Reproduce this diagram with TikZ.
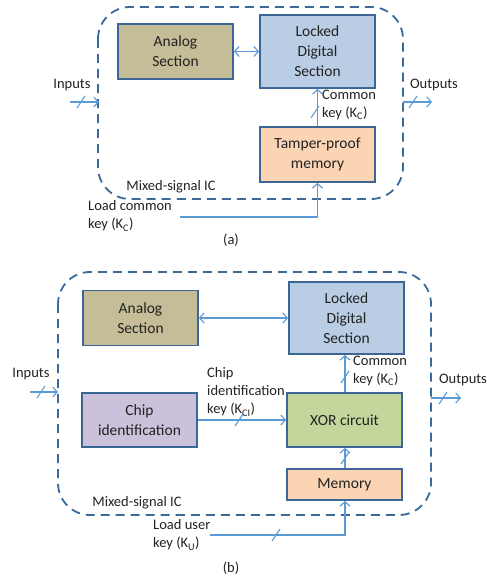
\documentclass[tikz,border=0pt]{standalone}
\usepackage{fontspec}
\setmainfont{Carlito}
\usetikzlibrary{arrows.meta,calc}
\definecolor{boxborder}{HTML}{3B6696}
\definecolor{dashcol}{HTML}{3A6A9A}
\definecolor{linecol}{HTML}{5B9BD5}
\definecolor{txt}{HTML}{222222}
\definecolor{analogfill}{HTML}{C4BD97}
\definecolor{lockedfill}{HTML}{B9CDE5}
\definecolor{memfill}{HTML}{FBD4B4}
\definecolor{chipfill}{HTML}{CCC1DA}
\definecolor{xorfill}{HTML}{C3D69B}
\begin{document}
\begin{tikzpicture}[x=1pt,y=-1pt,
 blk/.style={draw=boxborder, line width=1.8pt, minimum width=115pt, align=center, text=txt, font=\fontsize{15.5}{20}\selectfont, inner sep=0pt},
 lbl/.style={text=txt, font=\fontsize{14.5}{18}\selectfont, align=left, inner sep=0pt},
 conn/.style={draw=linecol, line width=1.1pt},
 arr/.style={conn, -{Straight Barb[length=4.5pt,width=10pt]}},
 darr/.style={conn, {Straight Barb[length=4.5pt,width=10pt]}-{Straight Barb[length=4.5pt,width=10pt]}},
 icbox/.style={draw=dashcol, line width=1.8pt, dash pattern=on 9pt off 6pt, rounded corners=32pt},
 slashmark/.pic={\draw[conn] (-4,6) -- (4,-6);}
]
\useasboundingbox (0,0) rectangle (487,578);

% ---------------- (a) ----------------
\draw[icbox] (98,7) rectangle (403,199);
\node[blk, fill=analogfill, minimum height=55pt] (an1) at (175.5,51.5) {Analog\\Section};
\node[blk, fill=lockedfill, minimum height=73pt] (lk1) at (317.5,51.5) {Locked\\Digital\\Section};
\node[blk, fill=memfill, minimum height=55pt] (tp1) at (317.5,154.5) {Tamper-proof\\memory};

\draw[darr] (an1.east) -- (lk1.west);
\draw[arr] (tp1.north) -- (lk1.south);
\pic at (315,112) {slashmark};
\node[lbl, anchor=west] (ck1) at (322,105) {Common\\key (K\textsubscript{C})};

\node[lbl] (in1) at (72,85) {Inputs};
\coordinate (in1s) at (70,102);
\coordinate (in1e) at (99,102);
\draw[arr] (in1s) -- (in1e);
\pic at (81,102) {slashmark};

\node[lbl] (out1) at (434,85) {Outputs};
\coordinate (out1s) at (403,102);
\coordinate (out1e) at (432,102);
\draw[arr] (out1s) -- (out1e);
\pic at (413,102) {slashmark};

\node[lbl] (mx1) at (171,187) {Mixed-signal IC};
\node[lbl, anchor=west] (ld1) at (88,216) {Load common\\key (K\textsubscript{C})};
\coordinate (ld1s) at (180,217);
\draw[arr] (ld1s) -| (tp1.south);
\node[lbl] (capa) at (231,240) {(a)};

% ---------------- (b) ----------------
\draw[icbox] (58,272) rectangle (431,515);
\node[blk, fill=analogfill, minimum height=55pt] (an2) at (140.5,318) {Analog\\Section};
\node[blk, fill=lockedfill, minimum height=72pt] (lk2) at (346.5,318) {Locked\\Digital\\Section};
\node[blk, fill=chipfill, minimum height=54pt] (ch2) at (139.5,420) {Chip\\identification};
\node[blk, fill=xorfill, minimum height=54pt] (xo2) at (344.5,420) {XOR circuit};
\node[blk, fill=memfill, minimum height=31pt] (me2) at (344.5,484.5) {Memory};

\draw[darr] (an2.east) -- (lk2.west);
\draw[arr] (ch2.east) -- (xo2.west);
\pic at (239,420) {slashmark};
\node[lbl, anchor=west] (ci2) at (207,392) {Chip\\identification\\key (K\textsubscript{CI})};

\draw[arr] (xo2.north -| 345,0) -- (lk2.south -| 345,0);
\pic at (345,377) {slashmark};
\node[lbl, anchor=west] (ck2) at (353,371) {Common\\key (K\textsubscript{C})};

\draw[arr] (me2.north -| 345,0) -- (xo2.south -| 345,0);
\pic at (345,458) {slashmark};

\node[lbl] (in2) at (31,374) {Inputs};
\coordinate (in2s) at (30,392);
\coordinate (in2e) at (58,392);
\draw[arr] (in2s) -- (in2e);
\pic at (41,392) {slashmark};

\node[lbl] (out2) at (463,380) {Outputs};
\coordinate (out2s) at (431,398);
\coordinate (out2e) at (461,398);
\draw[arr] (out2s) -- (out2e);
\pic at (443,398) {slashmark};

\node[lbl] (mx2) at (137,503) {Mixed-signal IC};
\node[lbl, anchor=west] (ld2) at (153,535) {Load user\\key (K\textsubscript{U})};
\coordinate (ld2s) at (210,535);
\draw[arr] (ld2s) -| (me2.south -| 345,0);
\pic at (276,535) {slashmark};
\node[lbl] (capb) at (231,568) {(b)};
\end{tikzpicture}
\end{document}
